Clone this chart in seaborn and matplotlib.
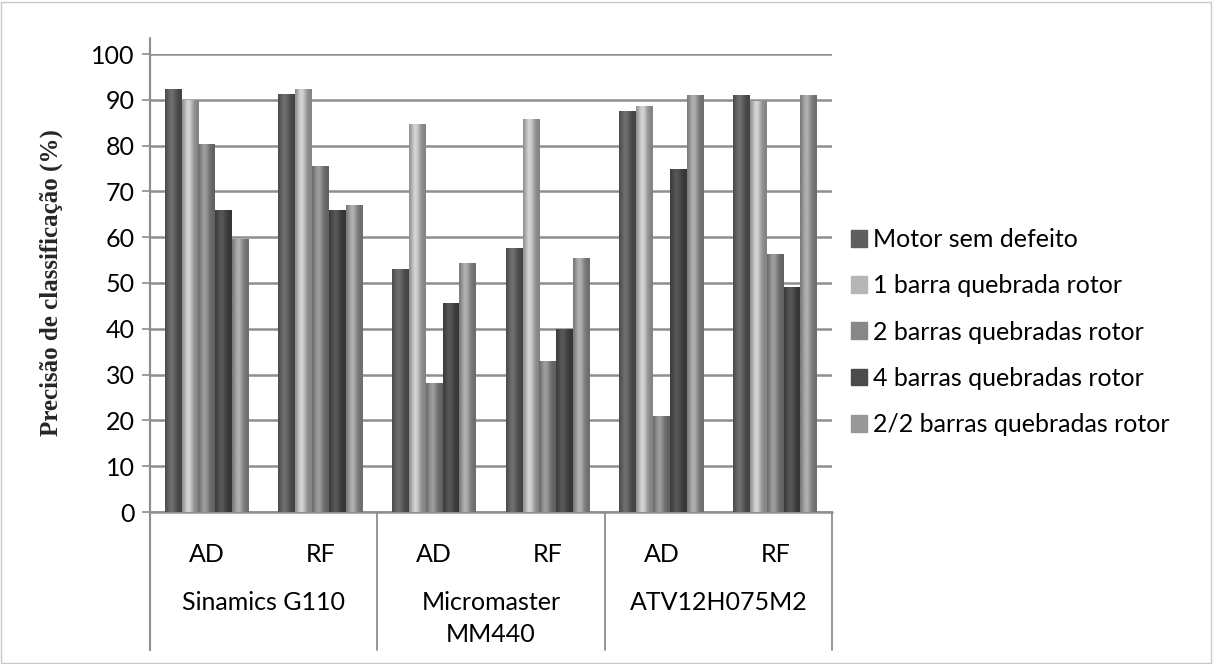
import numpy as np
import pandas as pd
import matplotlib
matplotlib.use("Agg")
import matplotlib.pyplot as plt
from matplotlib.lines import Line2D
import seaborn as sns

# valores
inversores = ['Sinamics G110', 'Micromaster\nMM440', 'ATV12H075M2']
metodos = ['AD', 'RF']
series = ['Motor sem defeito', '1 barra quebrada rotor', '2 barras quebradas rotor',
          '4 barras quebradas rotor', '2/2 barras quebradas rotor']
motor_ok = [92.4, 91.3, 53.1, 57.7, 87.5, 91.0]
barra_1 = [90.0, 92.4, 84.8, 85.9, 88.6, 89.7]
barras_2 = [80.4, 75.5, 28.2, 33.0, 21.0, 56.4]
barras_4 = [65.9, 65.9, 45.7, 39.9, 75.0, 49.1]
barras_22 = [59.7, 67.1, 54.4, 55.5, 91.0, 91.0]
cores = ['#5f5f5f', '#b6b6b6', '#878787', '#4b4b4b', '#989898']

cats = [f'{inv}|{m}' for inv in inversores for m in metodos]
vals = [motor_ok, barra_1, barras_2, barras_4, barras_22]
df = pd.DataFrame({
    'cat': np.tile(cats, len(series)),
    'serie': np.repeat(series, len(cats)),
    'valor': np.concatenate(vals),
})

sns.set_style('white')
plt.rcParams['font.family'] = ['Lato', 'DejaVu Sans']
plt.rcParams['text.color'] = 'black'
plt.rcParams['xtick.color'] = 'black'
plt.rcParams['ytick.color'] = 'black'

fig = plt.figure(figsize=(12.13, 6.64), dpi=100)
W, H = 1213, 664
x0, x1, ytop, ybot = 150, 832, 54, 512
ax = fig.add_axes([x0 / W, 1 - ybot / H, (x1 - x0) / W, (ybot - ytop) / H])

sns.barplot(data=df, x='cat', y='valor', hue='serie', hue_order=series, order=cats,
            palette=cores, width=0.74, ax=ax, saturation=1, legend=False,
            edgecolor='none', linewidth=0)

# sombreamento tipo cilindro
t = np.linspace(0, 1, 64)
shade = 0.72 + 0.45 * np.exp(-((t - 0.38) / 0.28) ** 2)
for p in list(ax.patches):
    bx, by = p.get_x(), p.get_y()
    bw, bh = p.get_width(), p.get_height()
    rgb = np.array(matplotlib.colors.to_rgb(p.get_facecolor()))
    img = np.clip(rgb[None, None, :] * shade[None, :, None], 0, 1)
    im = ax.imshow(img, extent=[bx, bx + bw, by, by + bh], aspect='auto',
                   zorder=3, interpolation='bicubic')
    im.set_clip_path(p)
    p.set_zorder(2)

ax.set_xlim(-0.5, len(cats) - 0.5)
ax.set_ylim(0, 100)
ax.set_yticks(range(0, 101, 10))
ax.yaxis.grid(True, color='#8e8e8e', linewidth=1.8)
ax.set_axisbelow(True)
for s in ['top', 'right', 'bottom']:
    ax.spines[s].set_visible(False)
ax.spines['left'].set_color('#8e8e8e')
ax.spines['left'].set_linewidth(1.5)
ax.tick_params(axis='y', length=6, width=1.2, color='#8e8e8e', labelsize=18,
               labelcolor='black', pad=5, left=True)
ax.tick_params(axis='x', length=0, labelsize=18, labelcolor='black', pad=22)
ax.set_xticks(range(len(cats)))
ax.set_xticklabels([c.split('|')[1] for c in cats])
ax.set_xlabel('')
ax.set_ylabel('Precisão de classificação (%)', fontsize=18, fontweight='bold',
              family='Liberation Serif', labelpad=20)

# separadores e rotulos dos inversores
trans = matplotlib.transforms.blended_transform_factory(ax.transData, ax.transAxes)
yb = -(650 - ybot) / (ybot - ytop)
for k in range(len(inversores) + 1):
    ax.add_line(Line2D([2 * k - 0.5] * 2, [0, yb], transform=trans, color='#8e8e8e',
                       lw=1.3, clip_on=False))
ax.add_line(Line2D([0, 0], [yb, (ybot - 38) / (ybot - ytop)], transform=ax.transAxes,
                   color='#8e8e8e', lw=1.5, clip_on=False))
ax.add_line(Line2D([0, 1], [0, 0], transform=ax.transAxes, color='#8e8e8e',
                   lw=1.8, clip_on=False))
for k, inv in enumerate(inversores):
    ax.text(2 * k + 0.5, -(591 - ybot) / (ybot - ytop), inv, transform=trans,
            ha='center', va='top', fontsize=18, linespacing=1.5)

handles = [plt.Rectangle((0, 0), 1, 1, color=c) for c in cores]
fig.legend(handles, series, loc='center left', bbox_to_anchor=(828 / W, 1 - 332 / H),
           frameon=False, fontsize=18, handlelength=0.65, handleheight=0.65,
           handletextpad=0.25, labelspacing=0.93)

fig.patches.append(plt.Rectangle((1 / W, 1 / H), 1 - 3 / W, 1 - 3 / H,
                                 transform=fig.transFigure, fill=False,
                                 edgecolor='#c8c8c8', lw=1))

fig.savefig('out.png', dpi=100)
